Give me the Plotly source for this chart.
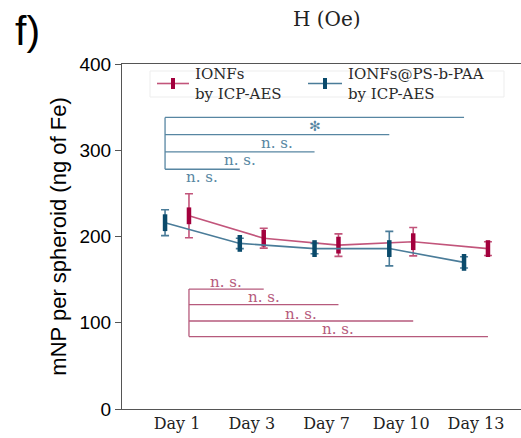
import plotly.graph_objects as go

# Iron content per spheroid measured by ICP-AES
days = ["Day 1", "Day 3", "Day 7", "Day 10", "Day 13"]

ionfs_mean = [224, 198, 190, 194, 186]
ionfs_err = [25.5, 11.5, 13, 16.5, 8]

coated_mean = [216, 192, 186, 186, 170]
coated_err = [15, 6, 6, 20, 6.5]

series_names = ["IONFs", "IONFs@PS-b-PAA"]
method_label = "by ICP-AES"

# Comparisons against Day 1: (end day index, bracket level, label)
coated_brackets_end = [1, 2, 3, 4]
coated_brackets_level = [278, 298, 318, 338]
coated_brackets_label = ["n. s.", "n. s.", "n. s.", "✻"]

ionfs_brackets_end = [1, 2, 3, 4]
ionfs_brackets_level = [139, 121, 102, 84]
ionfs_brackets_label = ["n. s.", "n. s.", "n. s.", "n. s."]

RED_MARK = "#a3003d"
RED_LINE = "#c2557b"
RED_BRACKET = "#b65a7c"
BLUE_MARK = "#0a4a6b"
BLUE_LINE = "#4a7c99"
BLUE_BRACKET = "#5786a2"
SERIF = "DejaVu Serif"
SANS = "Liberation Sans"

W, H = 521, 438
M_L, M_R, M_T, M_B = 122, 0, 64, 29
plot_w = W - M_L - M_R
plot_h = H - M_T - M_B


def px(x):
    """Horizontal pixel -> paper coordinate."""
    return (x - M_L) / plot_w


def py(y):
    """Vertical pixel (from top) -> paper coordinate."""
    return (H - M_B - y) / plot_h


shift = 0.16
idx = list(range(len(days)))
x_coated = [i - shift for i in idx]
x_ionfs = [i + shift for i in idx]

fig = go.Figure()

fig.add_trace(go.Scatter(
    x=x_ionfs, y=ionfs_mean, mode="lines+markers",
    name=series_names[0], showlegend=False,
    line=dict(color=RED_LINE, width=1.6),
    marker=dict(symbol="line-ns", size=12, line=dict(color=RED_MARK, width=4.5)),
    error_y=dict(type="data", array=ionfs_err, color=RED_LINE, thickness=1.6, width=4),
))
fig.add_trace(go.Scatter(
    x=x_coated, y=coated_mean, mode="lines+markers",
    name=series_names[1], showlegend=False,
    line=dict(color=BLUE_LINE, width=1.6),
    marker=dict(symbol="line-ns", size=12, line=dict(color=BLUE_MARK, width=4.5)),
    error_y=dict(type="data", array=coated_err, color=BLUE_LINE, thickness=1.6, width=4),
))

annotations = []
shapes = []


def add_brackets(x_pts, ends, levels, labels, color, label_shift):
    shapes.append(dict(type="line", xref="x", yref="y", x0=x_pts[0], x1=x_pts[0],
                       y0=min(levels), y1=max(levels), line=dict(color=color, width=1.3)))
    for end, lvl, lab in zip(ends, levels, labels):
        shapes.append(dict(type="line", xref="x", yref="y", x0=x_pts[0], x1=x_pts[end],
                           y0=lvl, y1=lvl, line=dict(color=color, width=1.3)))
        star = lab == "✻"
        annotations.append(dict(x=(x_pts[0] + x_pts[end]) / 2, y=lvl, xref="x", yref="y",
                                text=lab, showarrow=False, yanchor="middle",
                                yshift=label_shift - (1 if star else 0),
                                font=dict(family="DejaVu Sans" if star else SERIF,
                                          size=14 if star else 15, color=color)))


# Coated series: labels sit under each bar; uncoated: labels sit above
add_brackets(x_coated, coated_brackets_end, coated_brackets_level, coated_brackets_label,
             BLUE_BRACKET, -8)
add_brackets(x_ionfs, ionfs_brackets_end, ionfs_brackets_level, ionfs_brackets_label,
             RED_BRACKET, 7.5)

# Legend box with two entries
shapes.append(dict(type="rect", xref="paper", yref="paper", x0=px(150), x1=px(504),
                   y0=py(97), y1=py(71), line=dict(color="#ededed", width=1),
                   fillcolor="rgba(255,255,255,0)", layer="below"))
legend_entries = [
    (157, 189, 194, RED_LINE, RED_MARK, series_names[0]),
    (308, 342, 347, BLUE_LINE, BLUE_MARK, series_names[1]),
]
for x0, x1, xt, lc, mc, name in legend_entries:
    shapes.append(dict(type="line", xref="paper", yref="paper", x0=px(x0), x1=px(x1),
                       y0=py(83.5), y1=py(83.5), line=dict(color=lc, width=1.6)))
    xc = (x0 + x1) / 2
    shapes.append(dict(type="rect", xref="paper", yref="paper", x0=px(xc - 2), x1=px(xc + 2),
                       y0=py(89), y1=py(78), line=dict(width=0), fillcolor=mc))
    annotations.append(dict(x=px(xt), y=py(83.5), xref="paper", yref="paper",
                            text=name + "<br>" + method_label, align="left",
                            showarrow=False, xanchor="left", yanchor="middle", borderpad=0,
                            font=dict(family=SERIF, size=15, color="#2a2a2a")))

# Panel letter and the x-axis title of the panel above
annotations.append(dict(x=px(13), y=py(31), xref="paper", yref="paper", text="f)",
                        showarrow=False, xanchor="left", yanchor="middle",
                        font=dict(family=SANS, size=41, color="black")))
annotations.append(dict(x=px(327), y=py(19), xref="paper", yref="paper", text="H (Oe)",
                        showarrow=False, xanchor="center", yanchor="middle",
                        font=dict(family=SERIF, size=20, color="#222")))

fig.update_layout(
    width=W, height=H,
    margin=dict(l=M_L, r=M_R, t=M_T, b=M_B),
    paper_bgcolor="white", plot_bgcolor="white",
    showlegend=False,
    annotations=annotations, shapes=shapes,
    xaxis=dict(range=[-0.736, 4.602], tickmode="array", tickvals=idx, ticktext=days,
               showline=True, linecolor="#555", linewidth=1.2, mirror=True,
               showgrid=False, zeroline=False, ticks="",
               tickfont=dict(family=SERIF, size=16, color="#222")),
    yaxis=dict(range=[0, 400], tickvals=[0, 100, 200, 300, 400],
               showline=True, linecolor="#555", linewidth=1.2,
               showgrid=False, zeroline=False, ticks="outside", ticklen=6,
               tickcolor="#555", tickfont=dict(family=SANS, size=19, color="black"),
               title=dict(text="mNP per spheroid (ng of Fe)", standoff=6,
                          font=dict(family=SANS, size=22, color="black"))),
)

fig.write_html("out.html")
